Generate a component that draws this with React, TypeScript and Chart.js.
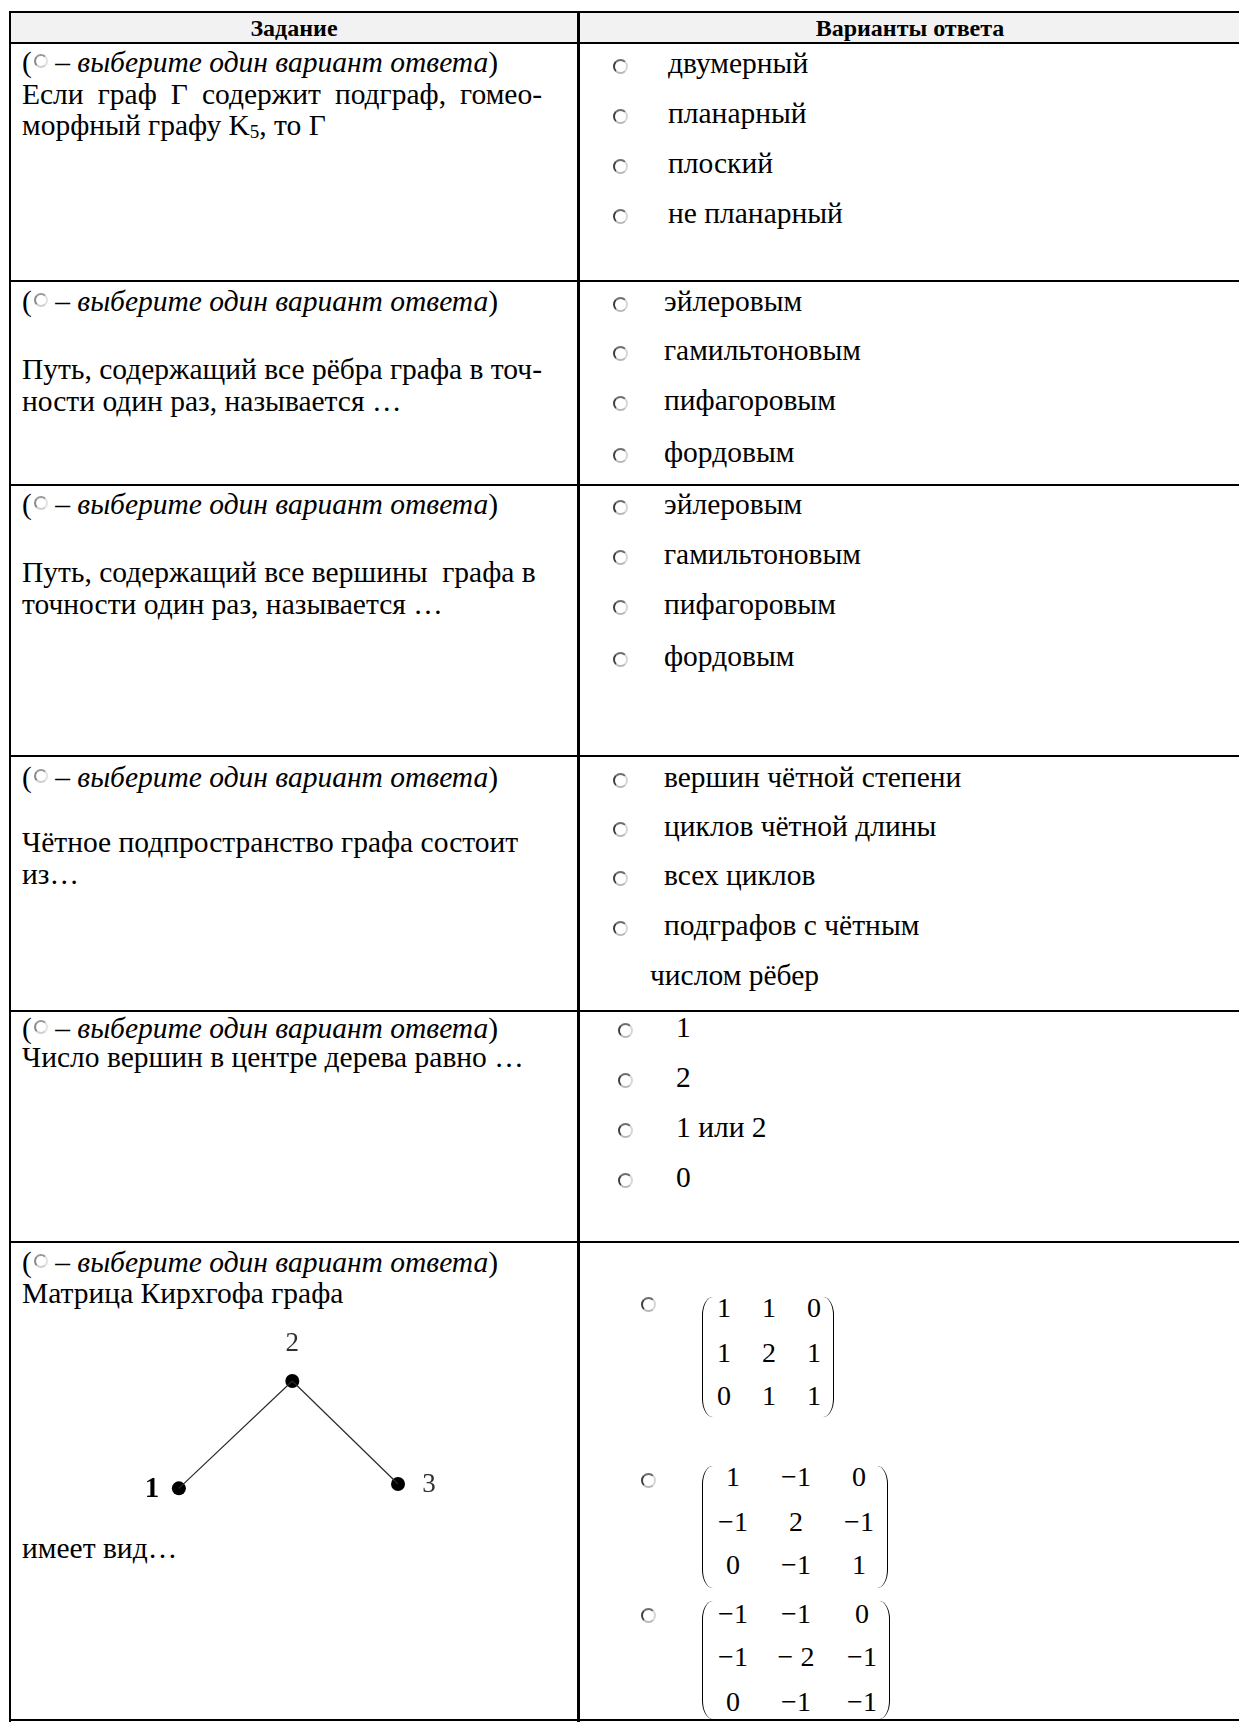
import React, { useEffect, useRef } from "react";
import { Chart, registerables } from "chart.js";

Chart.register(...registerables);

// ---------- data ----------
const headerLabels = ["Задание", "Варианты ответа"];
const instructionText = " – выберите один вариант ответа";
const q1Lines = ["Если граф Г содержит подграф, гомео-"];
const q1Options = ["двумерный", "планарный", "плоский", "не планарный"];
const q2Lines = ["Путь, содержащий все рёбра графа в точ-", "ности один раз, называется …"];
const q2Options = ["эйлеровым", "гамильтоновым", "пифагоровым", "фордовым"];
const q3Lines = ["Путь, содержащий все вершины  графа в", "точности один раз, называется …"];
const q3Options = ["эйлеровым", "гамильтоновым", "пифагоровым", "фордовым"];
const q4Lines = ["Чётное подпространство графа состоит", "из…"];
const q4Options = ["вершин чётной степени", "циклов чётной длины", "всех циклов", "подграфов с чётным"];
const q4Continuation = "числом рёбер";
const q5Lines = ["Число вершин в центре дерева равно …"];
const q5Options = ["1", "2", "1 или 2", "0"];
const q6Lines = ["Матрица Кирхгофа графа", "имеет вид…"];

// graph of question 6
const nodeLabels = ["1", "2", "3"];
const nodeX = [0, 1.03, 1.99];
const nodeY = [0, 1.0, 0.04];
const edges: [number, number][] = [[0, 1], [1, 2]];

// matrices of question 6
const matrixA = [["1", "1", "0"], ["1", "2", "1"], ["0", "1", "1"]];
const matrixB = [["1", "−1", "0"], ["−1", "2", "−1"], ["0", "−1", "1"]];
const matrixC = [["−1", "−1", "0"], ["−1", "− 2", "−1"], ["0", "−1", "−1"]];

// ---------- layout ----------
const FONT = "'Liberation Serif', 'Times New Roman', serif";
const FS = 29.5;
const TEXT_X = 22;
const DIV_X = 578;
const hLines = [12, 43, 281, 485, 756, 1011, 1242, 1720];

function Txt({ x, y, children, style }: any) {
  return (
    <div
      style={{
        position: "absolute",
        left: x,
        top: y - 19,
        lineHeight: "32px",
        fontSize: FS,
        whiteSpace: "pre",
        color: "#000",
        ...style,
      }}
    >
      {children}
    </div>
  );
}

const radioStyle = (size: number, light: boolean) => ({
  width: size,
  height: size,
  boxSizing: "border-box" as const,
  borderRadius: "50%",
  border: "2.5px solid",
  borderColor: light ? "#9a9a9a #e2e2e2 #d0d0d0 #8a8a8a" : "#6e6e6e #d6d6d6 #b8b8b8 #3e3e3e",
  background: "#fff",
});

function Radio({ cx, cy, size = 15 }: any) {
  return (
    <div style={{ position: "absolute", left: cx - size / 2, top: cy - size / 2, ...radioStyle(size, false) }} />
  );
}

function Instruction({ y }: { y: number }) {
  return (
    <Txt x={TEXT_X} y={y}>
      (
      <span
        style={{
          display: "inline-block",
          verticalAlign: "4px",
          margin: "0 0 0 2px",
          ...radioStyle(14, true),
        }}
      />
      <i>{instructionText}</i>)
    </Txt>
  );
}

function Options({ items, ys, radioX = 620, textX = 664 }: any) {
  return (
    <>
      {items.map((t: string, i: number) => (
        <React.Fragment key={i}>
          <Radio cx={radioX} cy={ys[i]} />
          <Txt x={textX} y={ys[i]}>{t}</Txt>
        </React.Fragment>
      ))}
    </>
  );
}

function Matrix({ cells, colX, rowY, left, right, top, bottom }: any) {
  const h = bottom - top;
  const paren = {
    position: "absolute" as const,
    top,
    width: 11,
    height: h,
    boxSizing: "border-box" as const,
  };
  return (
    <>
      <div
        style={{
          ...paren,
          left,
          borderLeft: "1.8px solid #000",
          borderTopLeftRadius: "12px 20px",
          borderBottomLeftRadius: "12px 20px",
        }}
      />
      <div
        style={{
          ...paren,
          left: right - 11,
          borderRight: "1.8px solid #000",
          borderTopRightRadius: "12px 20px",
          borderBottomRightRadius: "12px 20px",
        }}
      />
      {cells.map((row: string[], r: number) =>
        row.map((c: string, k: number) => (
          <div
            key={r + "-" + k}
            style={{
              position: "absolute",
              left: colX[k] - 40,
              width: 80,
              textAlign: "center",
              top: rowY[r] - 19,
              lineHeight: "32px",
              fontSize: 28,
              whiteSpace: "pre",
            }}
          >
            {c}
          </div>
        ))
      )}
    </>
  );
}

function GraphChart() {
  const ref = useRef<HTMLCanvasElement | null>(null);
  useEffect(() => {
    if (!ref.current) return;
    const unit = 115;
    const W = 330;
    const H = 210;
    const x0 = 50;
    const y0 = 175;
    const xmin = -x0 / unit;
    const xmax = xmin + W / unit;
    const ymax = y0 / unit;
    const ymin = ymax - H / unit;
    const nodes = nodeX.map((x, i) => ({ x, y: nodeY[i] }));
    const labelOffsets = [[-27, 1], [0, -37], [31, 1]];
    const labelPlugin = {
      id: "nodeLabels",
      afterDatasetsDraw(chart: any) {
        const { ctx, scales } = chart;
        ctx.save();
        ctx.textAlign = "center";
        ctx.textBaseline = "middle";
        nodeLabels.forEach((lab, i) => {
          const px = scales.x.getPixelForValue(nodeX[i]);
          const py = scales.y.getPixelForValue(nodeY[i]);
          ctx.font = (i === 0 ? "bold 29px" : "27px") + " 'Liberation Serif', serif";
          ctx.fillStyle = i === 0 ? "#000" : "#303030";
          ctx.fillText(lab, px + labelOffsets[i][0], py + labelOffsets[i][1]);
        });
        ctx.restore();
      },
    };
    const edgeSets = edges.map(([a, b]) => ({
      type: "line" as const,
      data: [nodes[a], nodes[b]],
      borderColor: "#2a2a2a",
      borderWidth: 1.2,
      pointRadius: 0,
      showLine: true,
      fill: false,
    }));
    const chart = new Chart(ref.current, {
      type: "scatter",
      data: {
        datasets: [
          ...edgeSets,
          {
            type: "scatter" as const,
            data: nodes,
            pointRadius: 7,
            pointBackgroundColor: "#000",
            pointBorderWidth: 0,
          },
        ] as any,
      },
      options: {
        animation: false,
        responsive: false,
        maintainAspectRatio: false,
        layout: { padding: 0 },
        plugins: { legend: { display: false }, tooltip: { enabled: false } },
        scales: {
          x: { type: "linear", display: false, min: xmin, max: xmax },
          y: { type: "linear", display: false, min: ymin, max: ymax },
        },
      },
      plugins: [labelPlugin],
    });
    return () => chart.destroy();
  }, []);
  return (
    <canvas
      ref={ref}
      width={330}
      height={210}
      style={{ position: "absolute", left: 124, top: 1318, width: 330, height: 210 }}
    />
  );
}

export default function App() {
  return (
    <div
      style={{
        position: "absolute",
        left: 0,
        top: 0,
        width: 1239,
        height: 1724,
        overflow: "hidden",
        background: "#fff",
        fontFamily: FONT,
        color: "#000",
      }}
    >
      <div style={{ position: "absolute", left: 10, top: 13, width: 1240, height: 30, background: "#f2f2f2" }} />
      {hLines.map((y, i) => (
        <div key={i} style={{ position: "absolute", left: 9, top: y - 1, width: 1240, height: 2, background: "#000" }} />
      ))}
      <div style={{ position: "absolute", left: 9, top: 11, width: 2, height: 1711, background: "#000" }} />
      <div style={{ position: "absolute", left: DIV_X - 1, top: 11, width: 3, height: 1711, background: "#000" }} />

      <div style={{ position: "absolute", left: 10, width: DIV_X - 10, top: 13, lineHeight: "30px", fontSize: 24, fontWeight: "bold", textAlign: "center" }}>
        {headerLabels[0]}
      </div>
      <div style={{ position: "absolute", left: DIV_X, width: 664, top: 13, lineHeight: "30px", fontSize: 24, fontWeight: "bold", textAlign: "center" }}>
        {headerLabels[1]}
      </div>

      {/* row 1 */}
      <Instruction y={65} />
      <Txt x={TEXT_X} y={97} style={{ width: 520, textAlign: "justify", textAlignLast: "justify", whiteSpace: "normal" }}>
        {q1Lines[0]}
      </Txt>
      <Txt x={TEXT_X} y={128}>
        морфный графу K<sub style={{ fontSize: 19, verticalAlign: "-3px" }}>5</sub>, то Г
      </Txt>
      <Options items={q1Options} ys={[66, 116, 166, 216]} textX={668} />

      {/* row 2 */}
      <Instruction y={304} />
      <Txt x={TEXT_X} y={372} style={{ width: 520, textAlign: "justify", textAlignLast: "justify", whiteSpace: "normal" }}>
        {q2Lines[0]}
      </Txt>
      <Txt x={TEXT_X} y={404}>{q2Lines[1]}</Txt>
      <Options items={q2Options} ys={[304, 353, 403, 455]} />

      {/* row 3 */}
      <Instruction y={507} />
      <Txt x={TEXT_X} y={575}>{q3Lines[0]}</Txt>
      <Txt x={TEXT_X} y={607}>{q3Lines[1]}</Txt>
      <Options items={q3Options} ys={[507, 557, 607, 659]} />

      {/* row 4 */}
      <Instruction y={780} />
      <Txt x={TEXT_X} y={845}>{q4Lines[0]}</Txt>
      <Txt x={TEXT_X} y={877}>{q4Lines[1]}</Txt>
      <Options items={q4Options} ys={[780, 829, 878, 928]} />
      <Txt x={650} y={978}>{q4Continuation}</Txt>

      {/* row 5 */}
      <Instruction y={1031} />
      <Txt x={TEXT_X} y={1060}>{q5Lines[0]}</Txt>
      <Options items={q5Options} ys={[1030, 1080, 1130, 1180]} radioX={625} textX={676} />

      {/* row 6 */}
      <Instruction y={1265} />
      <Txt x={TEXT_X} y={1296}>{q6Lines[0]}</Txt>
      <GraphChart />
      <Txt x={TEXT_X} y={1551}>{q6Lines[1]}</Txt>

      <Radio cx={648} cy={1304} />
      <Matrix cells={matrixA} colX={[724, 769, 814]} rowY={[1311, 1356, 1399]} left={702} right={834} top={1297} bottom={1417} />
      <Radio cx={648} cy={1480} />
      <Matrix cells={matrixB} colX={[733, 796, 859]} rowY={[1480, 1525, 1568]} left={702} right={888} top={1466} bottom={1588} />
      <Radio cx={648} cy={1615} />
      <Matrix cells={matrixC} colX={[733, 796, 862]} rowY={[1617, 1660, 1705]} left={702} right={890} top={1601} bottom={1719} />
    </div>
  );
}
